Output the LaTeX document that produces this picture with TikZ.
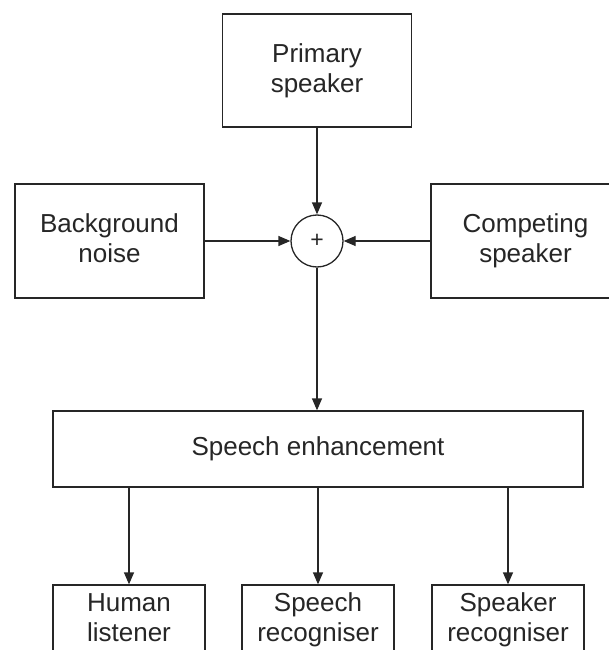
\documentclass[tikz,border=0pt]{standalone}
\usepackage{fontspec}
\setmainfont{Liberation Sans}
\usetikzlibrary{arrows.meta}
\newcommand{\tl}[2]{\vphantom{l}#1\\#2\vphantom{g}}
\begin{document}
\begin{tikzpicture}[x=1pt,y=-1pt,
  blk/.style={draw=black!85, line width=1.3pt, fill=white, align=center, inner sep=0pt,
    font=\fontsize{26}{30}\selectfont, text=black!85},
  conn/.style={draw=black!85, line width=1.3pt, -{Triangle[length=12pt,width=10pt]}},
  sumnode/.style={circle, draw=black!85, line width=1.3pt, minimum size=52pt, inner sep=0pt,
    font=\fontsize{23}{26}\selectfont, text=black!85}]
\useasboundingbox (0,0) rectangle (609,650);
\clip (0,0) rectangle (609,650);
% top row
\node[blk, minimum width=189pt, minimum height=113pt] (prim) at (317,70.5) {\tl{Primary}{speaker}};
\node[blk, minimum width=189pt, minimum height=114pt] (bg) at (109.5,241) {\tl{Background}{noise}};
\node[blk, minimum width=189pt, minimum height=114pt] (comp) at (525.5,241) {\tl{Competing}{speaker}};
\node[sumnode] (sum) at (317,241) {+};
% enhancement
\node[blk, minimum width=530pt, minimum height=76pt] (enh) at (318,449) {Speech enhancement};
% bottom row
\node[blk, minimum width=152pt, minimum height=70pt] (hum) at (129,620) {\tl{Human}{listener}};
\node[blk, minimum width=152pt, minimum height=70pt] (sr) at (318,620) {\tl{Speech}{recogniser}};
\node[blk, minimum width=152pt, minimum height=70pt] (spk) at (508,620) {\tl{Speaker}{recogniser}};
% connectors
\draw[conn] (prim.south) -- (sum.north);
\draw[conn] (bg.east) -- (sum.west);
\draw[conn] (comp.west) -- (sum.east);
\draw[conn] (sum.south) -- (sum.south |- enh.north);
\draw[conn] (enh.south -| hum.north) -- (hum.north);
\draw[conn] (enh.south -| sr.north) -- (sr.north);
\draw[conn] (enh.south -| spk.north) -- (spk.north);
\end{tikzpicture}
\end{document}
